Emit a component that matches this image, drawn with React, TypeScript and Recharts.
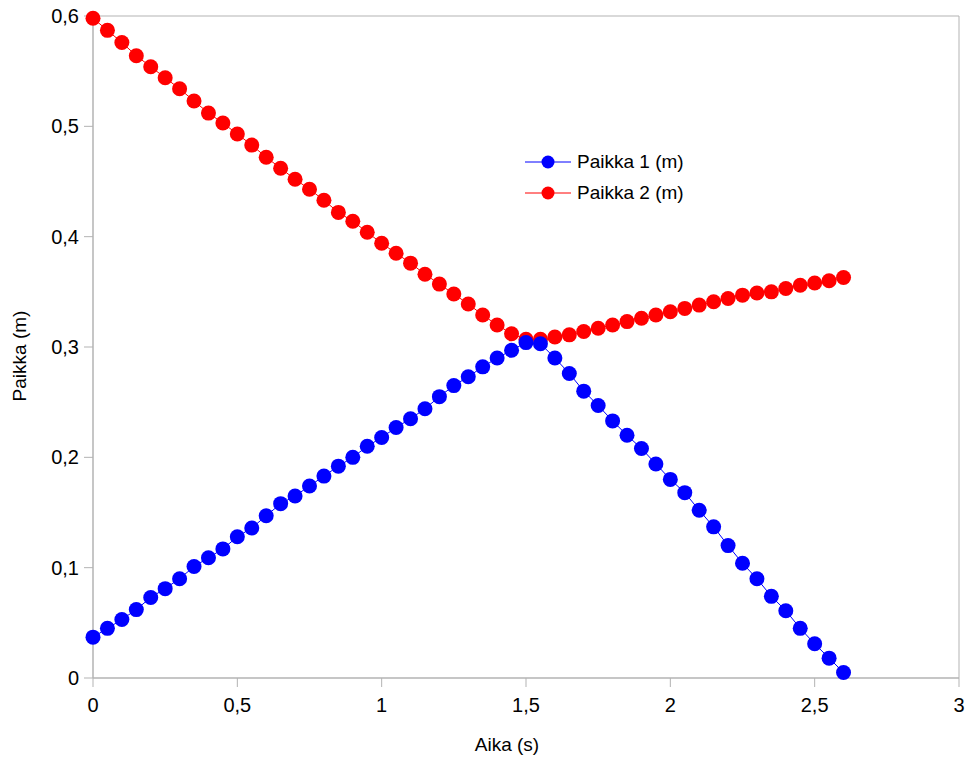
import { Legend, Line, LineChart, ReferenceArea, XAxis, YAxis } from "recharts";

const aika = [
  0, 0.05, 0.1, 0.15, 0.2, 0.25, 0.3, 0.35, 0.4, 0.45, 0.5, 0.55, 0.6, 0.65,
  0.7, 0.75, 0.8, 0.85, 0.9, 0.95, 1.0, 1.05, 1.1, 1.15, 1.2, 1.25, 1.3, 1.35,
  1.4, 1.45, 1.5, 1.55, 1.6, 1.65, 1.7, 1.75, 1.8, 1.85, 1.9, 1.95, 2.0, 2.05,
  2.1, 2.15, 2.2, 2.25, 2.3, 2.35, 2.4, 2.45, 2.5, 2.55, 2.6,
];

const paikka1 = [
  0.037, 0.045, 0.053, 0.062, 0.073, 0.081, 0.09, 0.101, 0.109, 0.117, 0.128,
  0.136, 0.147, 0.158, 0.165, 0.174, 0.183, 0.192, 0.2, 0.21, 0.218, 0.227,
  0.235, 0.244, 0.255, 0.265, 0.273, 0.282, 0.29, 0.297, 0.304, 0.303, 0.29,
  0.276, 0.26, 0.247, 0.233, 0.22, 0.208, 0.194, 0.18, 0.168, 0.152, 0.137,
  0.12, 0.104, 0.09, 0.074, 0.061, 0.045, 0.031, 0.018, 0.005,
];

const paikka2 = [
  0.598, 0.587, 0.576, 0.564, 0.554, 0.544, 0.534, 0.523, 0.512, 0.503, 0.493,
  0.483, 0.472, 0.462, 0.452, 0.443, 0.433, 0.422, 0.414, 0.404, 0.394, 0.385,
  0.376, 0.366, 0.357, 0.348, 0.339, 0.329, 0.32, 0.312, 0.307, 0.307, 0.309,
  0.311, 0.314, 0.317, 0.32, 0.323, 0.326, 0.329, 0.332, 0.335, 0.338, 0.341,
  0.344, 0.347, 0.349, 0.35, 0.353, 0.356, 0.358, 0.36, 0.363,
];

const xTicks = [0, 0.5, 1, 1.5, 2, 2.5, 3];
const yTicks = [0, 0.1, 0.2, 0.3, 0.4, 0.5, 0.6];

const data = aika.map((t, i) => ({ t, p1: paikka1[i], p2: paikka2[i] }));

const FONT = "'Liberation Sans', Arial, sans-serif";
const GREY = "#b3b3b3";
const comma = (v: number) => String(v).replace(".", ",");

function LegendBox({ payload }: { payload?: any[] }) {
  // series are drawn red first (blue on top), but listed 1, 2
  const items = [...(payload ?? [])].sort((a, b) =>
    String(a.value).localeCompare(String(b.value))
  );
  return (
    <div style={{ fontFamily: FONT, fontSize: 19, color: "#000" }}>
      {items.map((it) => (
        <div
          key={it.value}
          style={{ display: "flex", alignItems: "center", height: 31 }}
        >
          <svg width={46} height={16} style={{ marginRight: 6 }}>
            <line x1={0} y1={8} x2={46} y2={8} stroke={it.color} strokeWidth={1} />
            <circle cx={23} cy={8} r={6.5} fill={it.color} />
          </svg>
          <span>{it.value}</span>
        </div>
      ))}
    </div>
  );
}

export default function App() {
  return (
    <div style={{ position: "absolute", left: 0, top: 0, background: "#fff" }}>
      <LineChart
        width={968}
        height={758}
        data={data}
        margin={{ top: 16, right: 9, left: 0, bottom: 0 }}
      >
        <ReferenceArea
          x1={0}
          x2={3}
          y1={0}
          y2={0.6}
          fill="none"
          stroke={GREY}
          strokeWidth={1}
        />
        <XAxis
          type="number"
          dataKey="t"
          domain={[0, 3]}
          ticks={xTicks}
          tickFormatter={comma}
          height={80}
          tickSize={9}
          tickMargin={11}
          axisLine={{ stroke: GREY }}
          tickLine={{ stroke: GREY }}
          tick={{ fontSize: 20, fill: "#000", fontFamily: FONT }}
          label={{
            value: "Aika (s)",
            position: "insideBottom",
            offset: 7,
            dx: -19,
            style: { fontSize: 19, fill: "#000", fontFamily: FONT },
          }}
        />
        <YAxis
          type="number"
          domain={[0, 0.6]}
          ticks={yTicks}
          tickFormatter={comma}
          width={93}
          tickSize={9}
          tickMargin={5}
          axisLine={{ stroke: GREY }}
          tickLine={{ stroke: GREY }}
          tick={{ fontSize: 20, fill: "#000", fontFamily: FONT }}
          label={{
            value: "Paikka (m)",
            angle: -90,
            position: "insideLeft",
            offset: 19,
            dy: 9,
            style: { fontSize: 19, fill: "#000", fontFamily: FONT, textAnchor: "middle" },
          }}
        />
        <Legend
          content={<LegendBox />}
          layout="vertical"
          align="center"
          verticalAlign="middle"
          wrapperStyle={{ position: "absolute", left: 525, top: 146, width: 200 }}
        />
        <Line
          dataKey="p2"
          name="Paikka 2 (m)"
          stroke="#ff0000"
          strokeWidth={1}
          dot={{ r: 7.5, fill: "#ff0000", stroke: "none" }}
          activeDot={false}
          isAnimationActive={false}
        />
        <Line
          dataKey="p1"
          name="Paikka 1 (m)"
          stroke="#0000ff"
          strokeWidth={1}
          dot={{ r: 7.5, fill: "#0000ff", stroke: "none" }}
          activeDot={false}
          isAnimationActive={false}
        />
      </LineChart>
    </div>
  );
}
